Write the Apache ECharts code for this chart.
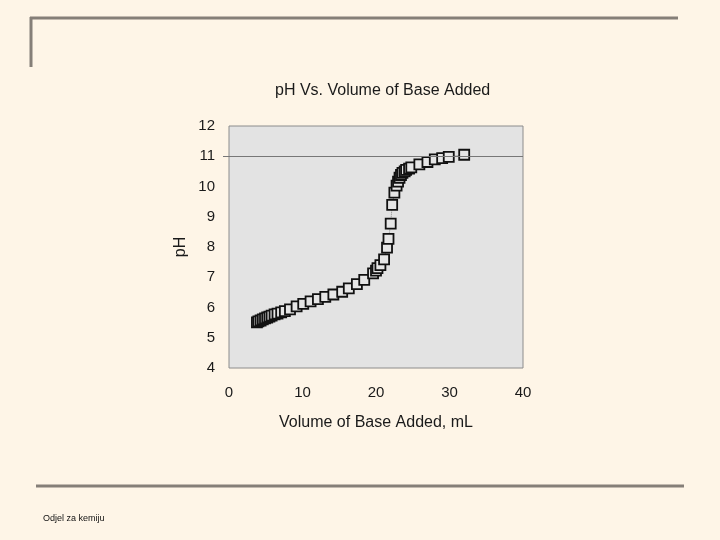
<!DOCTYPE html>
<html>
<head>
<meta charset="utf-8">
<script src="https://cdn.jsdelivr.net/npm/echarts@6/dist/echarts.min.js"></script>
<style>
  html, body { margin: 0; padding: 0; background: #fef5e7; }
  #chart { width: 720px; height: 540px; }
</style>
</head>
<body>
<div id="chart"></div>
<script>
const volume = [3.8, 4.0, 4.3, 4.6, 4.9, 5.2, 5.5, 5.8, 6.2, 6.6, 7.1, 7.6, 8.3, 9.2, 10.1, 11.1, 12.1, 13.1, 14.2, 15.4,
  16.3, 17.4, 18.4, 19.6, 20.0, 20.2, 20.6, 21.1, 21.5, 21.7, 22.0, 22.2, 22.5, 22.8, 23.0, 23.2, 23.4, 23.6, 23.9,
  24.1, 24.5, 24.8, 25.9, 27.0, 28.0, 29.0, 29.9, 32.0]
const ph = [5.51, 5.54, 5.57, 5.61, 5.64, 5.67, 5.70, 5.73, 5.77, 5.80, 5.84, 5.88, 5.94, 6.04, 6.12, 6.20, 6.28, 6.35, 6.43, 6.52,
  6.63, 6.77, 6.91, 7.13, 7.22, 7.30, 7.40, 7.59, 7.98, 8.27, 8.77, 9.39, 9.80, 10.03, 10.16, 10.29, 10.38, 10.45, 10.50,
  10.55, 10.59, 10.63, 10.73, 10.81, 10.90, 10.94, 10.98, 11.05]
const refLine = 11

const points = volume.map((v, i) => [v, ph[i]])
const font = '"Liberation Sans", Arial, sans-serif'

var chart = echarts.init(document.getElementById('chart'))
chart.setOption({
  backgroundColor: '#fef5e7',
  animation: false,
  textStyle: { fontFamily: font },
  title: {
    text: 'pH Vs. Volume of Base Added',
    left: 270,
    top: 78,
    textStyle: { fontSize: 16, fontWeight: 'normal', color: '#1a1a1a', fontFamily: font }
  },
  grid: {
    left: 229, right: 197, top: 126, bottom: 172,
    show: true,
    backgroundColor: '#e3e3e3',
    borderColor: '#8c8c8c',
    borderWidth: 1
  },
  xAxis: {
    type: 'value',
    min: 0, max: 40, interval: 10,
    name: 'Volume of Base Added, mL',
    nameLocation: 'middle',
    nameGap: 47,
    nameTextStyle: { fontSize: 16, color: '#1a1a1a' },
    axisLine: { show: false },
    axisTick: { show: false },
    splitLine: { show: false },
    axisLabel: { fontSize: 15, color: '#1a1a1a', margin: 17 }
  },
  yAxis: {
    type: 'value',
    min: 4, max: 12, interval: 1,
    name: 'pH',
    nameLocation: 'middle',
    nameGap: 40,
    nameTextStyle: { fontSize: 16, color: '#1a1a1a' },
    axisLine: { show: false },
    axisTick: { show: true, customValues: [refLine], length: 6, lineStyle: { color: '#777' } },
    splitLine: { show: false },
    axisLabel: { fontSize: 15, color: '#1a1a1a', margin: 14 }
  },
  series: [{
    type: 'line',
    data: points,
    symbol: 'rect',
    symbolSize: 10,
    lineStyle: { color: '#888', width: 1, type: 'dotted' },
    itemStyle: { color: '#e6e6e6', borderColor: '#111', borderWidth: 1.8 },
    markLine: {
      silent: true,
      symbol: 'none',
      label: { show: false },
      lineStyle: { color: '#777', width: 1, type: 'solid' },
      data: [{ yAxis: refLine }]
    },
    z: 3
  }],
  graphic: [
    { type: 'line', shape: { x1: 30, y1: 18, x2: 678, y2: 18 }, style: { stroke: '#857f78', lineWidth: 3 } },
    { type: 'line', shape: { x1: 31, y1: 17, x2: 31, y2: 67 }, style: { stroke: '#857f78', lineWidth: 3 } },
    { type: 'line', shape: { x1: 36, y1: 486, x2: 684, y2: 486 }, style: { stroke: '#857f78', lineWidth: 3 } },
    { type: 'text', left: 43, top: 514, style: { text: 'Odjel za kemiju', fontSize: 9, fill: '#111', fontFamily: font } }
  ]
})
</script>
</body>
</html>
